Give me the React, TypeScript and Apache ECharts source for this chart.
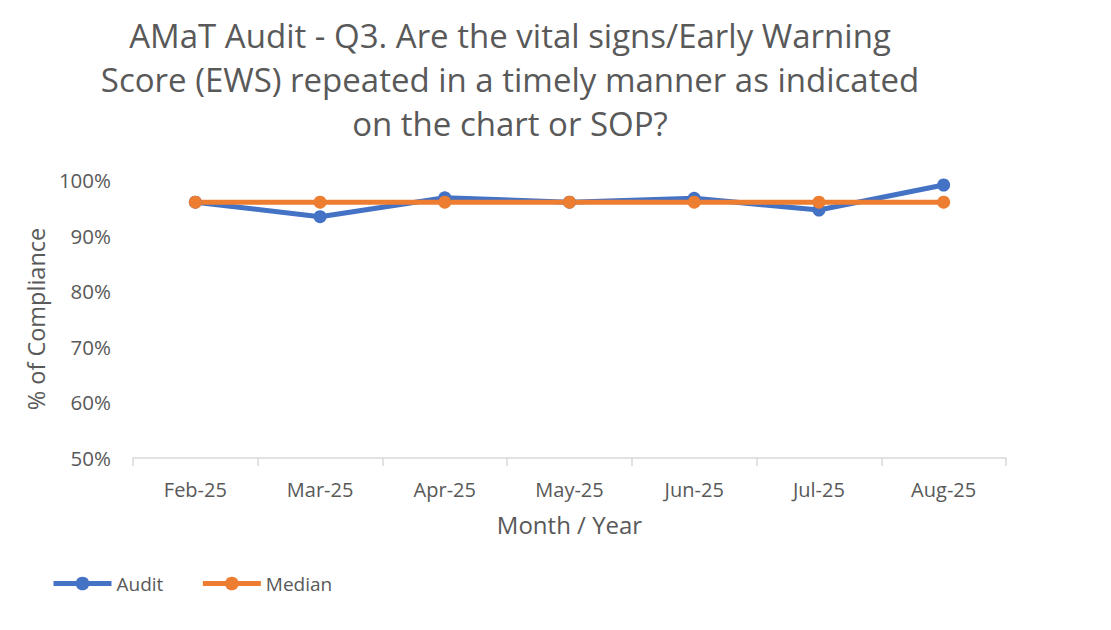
import React, { useEffect, useRef } from "react";
import * as echarts from "echarts";

const titleLines = [
  "AMaT Audit - Q3. Are the vital signs/Early Warning",
  "Score (EWS) repeated in a timely manner as indicated",
  "on the chart or SOP?",
];
const months = ["Feb-25", "Mar-25", "Apr-25", "May-25", "Jun-25", "Jul-25", "Aug-25"];
const audit = [96, 93.4, 96.8, 96, 96.7, 94.6, 99.1];
const median = [96, 96, 96, 96, 96, 96, 96];

const FONT = "'Open Sans', 'Noto Sans', sans-serif";
const GREY = "#595959";

export default function App() {
  const ref = useRef<HTMLDivElement>(null);
  useEffect(() => {
    if (!ref.current) return;
    const chart = echarts.init(ref.current, null, { renderer: "svg" });
    chart.setOption({
      animation: false,
      backgroundColor: "#ffffff",
      textStyle: { fontFamily: FONT },
      graphic: titleLines.map((t, i) => ({
        type: "text",
        x: 510,
        y: 35 + i * 44,
        style: {
          text: t,
          fill: GREY,
          font: `33px ${FONT}`,
          textAlign: "center",
          textVerticalAlign: "middle",
        },
      })),
      legend: {
        left: 46,
        top: 569,
        itemWidth: 58,
        itemHeight: 17,
        itemGap: 37,
        lineStyle: { width: 5 },
        textStyle: { color: GREY, fontSize: 19, fontFamily: FONT },
        data: ["Audit", "Median"],
      },
      grid: { left: 133, right: 105, top: 180, bottom: 172 },
      xAxis: {
        type: "category",
        data: months,
        boundaryGap: true,
        name: "Month / Year",
        nameLocation: "middle",
        nameGap: 54,
        nameTextStyle: { color: GREY, fontSize: 24, fontFamily: FONT },
        axisLine: { lineStyle: { color: "#d9d9d9", width: 1.5 } },
        axisTick: { show: true, length: 8, lineStyle: { color: "#d9d9d9", width: 1.5 } },
        axisLabel: { color: GREY, fontSize: 20, margin: 21, fontFamily: FONT },
        splitLine: { show: false },
      },
      yAxis: {
        type: "value",
        min: 50,
        max: 100,
        interval: 10,
        name: "% of Compliance",
        nameLocation: "middle",
        nameGap: 85,
        nameTextStyle: { color: GREY, fontSize: 23.5, fontFamily: FONT },
        axisLine: { show: false },
        axisTick: { show: false },
        splitLine: { show: false },
        axisLabel: {
          color: GREY,
          fontSize: 20.5,
          margin: 22,
          fontFamily: FONT,
          formatter: (v: number) => `${v}%`,
        },
      },
      series: [
        {
          name: "Audit",
          type: "line",
          data: audit,
          color: "#4472C4",
          symbol: "circle",
          symbolSize: 13,
          lineStyle: { width: 5, color: "#4472C4" },
          itemStyle: { color: "#4472C4" },
        },
        {
          name: "Median",
          type: "line",
          data: median,
          color: "#ED7D31",
          symbol: "circle",
          symbolSize: 13,
          lineStyle: { width: 5, color: "#ED7D31" },
          itemStyle: { color: "#ED7D31" },
        },
      ],
    });
    return () => chart.dispose();
  }, []);
  return (
    <div
      ref={ref}
      style={{ position: "fixed", left: 0, top: 0, width: 1111, height: 630 }}
    />
  );
}
